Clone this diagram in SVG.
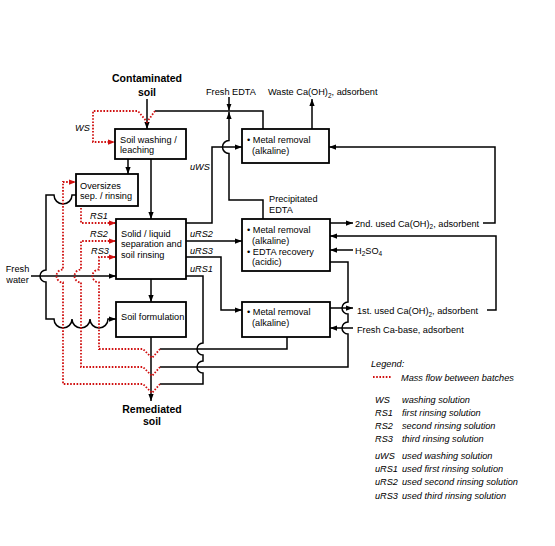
<svg xmlns="http://www.w3.org/2000/svg" width="555" height="546" viewBox="0 0 555 546">
<style>
text{font-family:"Liberation Sans",Arial,sans-serif;font-size:9.2px;fill:#000}
.b{font-weight:bold;font-size:10.5px}
.i{font-style:italic}
.box{fill:#fff;stroke:#000;stroke-width:1.8}
.c{fill:none;stroke:#000;stroke-width:1.5}
.r{fill:none;stroke:#d01010;stroke-width:1.8;stroke-dasharray:1.6 1.6}
.ca{marker-end:url(#ah)}
.ra{marker-end:url(#ahr)}
</style>
<defs>
<marker id="ah" viewBox="0 0 8 6" refX="8" refY="3" markerWidth="7" markerHeight="5.25" markerUnits="userSpaceOnUse" orient="auto"><path d="M0,0L8,3L0,6z" fill="#000"/></marker>
<marker id="ahr" viewBox="0 0 8 6" refX="8" refY="3" markerWidth="7" markerHeight="5.25" markerUnits="userSpaceOnUse" orient="auto"><path d="M0,0L8,3L0,6z" fill="#d01010"/></marker>
</defs>
<rect width="555" height="546" fill="#fff"/>
<g id="connectors">
<path class="c ca" d="M147,99L147,129"/>
<path class="c ca" d="M128,159L128,174"/>
<path class="c ca" d="M151,159L151,219"/>
<path class="c ca" d="M151,279L151,302"/>
<path class="c ca" d="M151,337L151,401"/>
<path class="c" d="M263,129L263,111L155,111"/>
<path class="c ca" d="M229,97L229,110.5"/>
<path class="c ca" d="M263,219L263,200L229,200L229,153.5A6.5,6.5 0 0 1 229,140.5L229,112"/>
<path class="c ca" d="M186,223L212,223L212,147L242,147"/>
<path class="c ca" d="M186,241L242,241"/>
<path class="c ca" d="M186,257L221,257L221,310L242,310"/>
<path class="c" d="M186,276L203,276L203,343A6,6 0 0 0 203,355L203,361A6,6 0 0 0 203,373L203,384L160,384"/>
<path class="c" d="M287,337L287,349L160,349"/>
<path class="c" d="M330,262L348,262L348,302A6,6 0 0 0 348,314L348,322A6,6 0 0 0 348,334L348,367L160,367"/>
<path class="c ca" d="M312,129L312,99"/>
<path class="c ca" d="M330,223L353,223"/>
<path class="c ca" d="M483,223L495,223L495,147L329,147"/>
<path class="c ca" d="M353,250L330,250"/>
<path class="c ca" d="M330,308L353,308"/>
<path class="c ca" d="M353,328L330,328"/>
<path class="c ca" d="M487,310L496,310L496,236L330,236"/>
<path class="c ca" d="M31,276L116,276"/>
<path class="c ca" d="M76,195L72,195A9,9 0 0 1 54,195L46,195L46,270A6,6 0 0 0 46,282L46,319L54,319A9,9 0 0 0 72,319A9,9 0 0 0 90,319A9,9 0 0 0 108,319L116,319"/>
<path class="r ra" d="M155,111L147,122L138,111L93,111L93,142L115,142"/>
<path class="r ra" d="M160,384L152,393L143,384L63,384L63,282.5A6.5,6.5 0 0 1 63,269.5L63,182L76,182"/>
<path class="r ra" d="M160,367L152,376L143,367L81,367L81,282.5A6.5,6.5 0 0 1 81,269.5L81,241L116,241"/>
<path class="r ra" d="M160,349L152,358L143,349L99,349L99,282.5A6.5,6.5 0 0 1 99,269.5L99,257L116,257"/>
<path class="r ra" d="M81,208L81,223L116,223"/>
</g>
<g id="n_contam"><text class="b" x="147" y="82" text-anchor="middle">Contaminated</text><text class="b" x="147" y="96" text-anchor="middle">soil</text></g>
<g id="n_wash"><rect class="box" x="115" y="129" width="71" height="30"/><text x="120" y="142.5">Soil washing /</text><text x="120" y="153">leaching</text></g>
<g id="n_over"><rect class="box" x="76" y="174" width="62" height="32"/><text x="80" y="188.5">Oversizes</text><text x="80" y="199">sep. / rinsing</text></g>
<g id="n_solid"><rect class="box" x="116" y="219" width="70" height="60"/><text x="121" y="236.5">Solid / liquid</text><text x="121" y="247">separation and</text><text x="121" y="257.5">soil rinsing</text></g>
<g id="n_form"><rect class="box" x="116" y="302" width="70" height="35"/><text x="121" y="320">Soil formulation</text></g>
<g id="n_mr1"><rect class="box" x="242" y="129" width="87" height="34"/><text x="247" y="143">• Metal removal</text><text x="252" y="153.5">(alkaline)</text></g>
<g id="n_mr2"><rect class="box" x="242" y="219" width="88" height="52"/><text x="247" y="232.5">• Metal removal</text><text x="252" y="243.5">(alkaline)</text><text x="247" y="254.5">• EDTA recovery</text><text x="252" y="265">(acidic)</text></g>
<g id="n_mr3"><rect class="box" x="242" y="302" width="88" height="35"/><text x="247" y="315">• Metal removal</text><text x="252" y="326">(alkaline)</text></g>
<g id="n_remed"><text class="b" x="152" y="413" text-anchor="middle">Remediated</text><text class="b" x="152" y="425" text-anchor="middle">soil</text></g>
<g id="labels">
<text x="206" y="95">Fresh EDTA</text>
<text x="268" y="95">Waste Ca(OH)<tspan dy="2.5" font-size="6.5">2</tspan><tspan dy="-2.5">, adsorbent</tspan></text>
<text x="269" y="201.5">Precipitated</text>
<text x="269" y="212.5">EDTA</text>
<text x="355" y="226.5">2nd. used Ca(OH)<tspan dy="2.5" font-size="6.5">2</tspan><tspan dy="-2.5">, adsorbent</tspan></text>
<text x="355" y="253.5">H<tspan dy="2.5" font-size="6.5">2</tspan><tspan dy="-2.5">SO</tspan><tspan dy="2.5" font-size="6.5">4</tspan></text>
<text x="357" y="314">1st. used Ca(OH)<tspan dy="2.5" font-size="6.5">2</tspan><tspan dy="-2.5">, adsorbent</tspan></text>
<text x="357" y="332.5">Fresh Ca-base, adsorbent</text>
<text x="17.5" y="271.5" text-anchor="middle">Fresh</text>
<text x="17.5" y="282.5" text-anchor="middle">water</text>
<text class="i" x="75" y="130.5">WS</text>
<text class="i" x="90" y="219">RS1</text>
<text class="i" x="90" y="236.5">RS2</text>
<text class="i" x="91" y="254">RS3</text>
<text class="i" x="190" y="170">uWS</text>
<text class="i" x="190" y="236.5">uRS2</text>
<text class="i" x="190" y="254">uRS3</text>
<text class="i" x="190" y="271.5">uRS1</text>
</g>
<g id="legend">
<text class="i" x="371" y="366.5">Legend:</text>
<path class="r" d="M373,377L392,377"/>
<text class="i" x="401" y="380.5">Mass flow between batches</text>
<text class="i" x="375" y="402.5">WS</text><text class="i" x="402" y="402.5">washing solution</text>
<text class="i" x="375" y="415.5">RS1</text><text class="i" x="402" y="415.5">first rinsing solution</text>
<text class="i" x="375" y="428.5">RS2</text><text class="i" x="402" y="428.5">second rinsing solution</text>
<text class="i" x="375" y="441.5">RS3</text><text class="i" x="402" y="441.5">third rinsing solution</text>
<text class="i" x="375" y="459">uWS</text><text class="i" x="402" y="459">used washing solution</text>
<text class="i" x="375" y="471.5">uRS1</text><text class="i" x="402" y="471.5">used first rinsing solution</text>
<text class="i" x="375" y="485">uRS2</text><text class="i" x="402" y="485">used second rinsing solution</text>
<text class="i" x="375" y="499">uRS3</text><text class="i" x="402" y="499">used third rinsing solution</text>
</g>
</svg>
